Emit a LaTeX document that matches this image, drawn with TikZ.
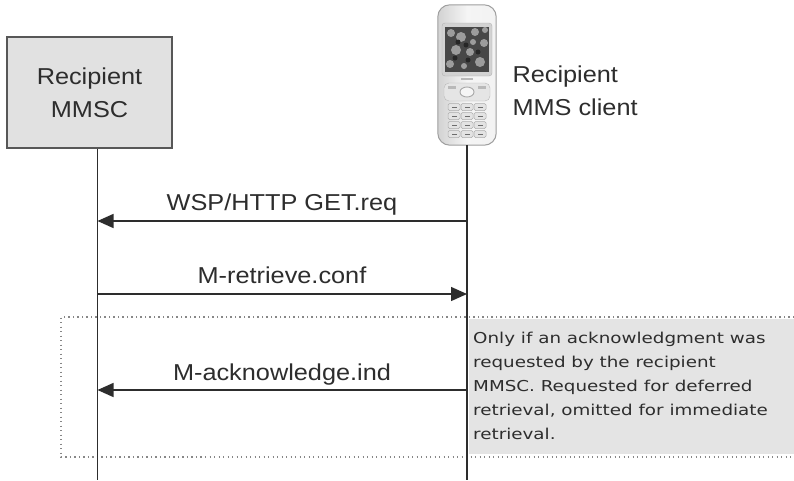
\documentclass[tikz,border=0pt]{standalone}
\usepackage{fontspec}
\setmainfont{Liberation Sans}[FakeStretch=1.1]
\newfontfamily\notefont{DejaVu Sans}[FakeStretch=1.22]
\usetikzlibrary{arrows.meta,positioning}
\definecolor{ink}{RGB}{45,45,45}
\definecolor{boxgray}{RGB}{225,225,225}
\definecolor{notegray}{RGB}{228,228,228}
\definecolor{dotgray}{RGB}{135,135,135}

\begin{document}
\begin{tikzpicture}[x=1pt, y=-1pt,
    every node/.style={text=ink, font=\fontsize{23}{33}\selectfont},
    life/.style={draw=ink, line width=1.8pt},
    msg/.style={draw=ink, line width=1.4pt, -{Triangle[length=16pt,width=14pt]}},
    phonekey/.style={draw=gray!65, fill=gray!22, rounded corners=1.5pt, line width=0.5pt}]
    \useasboundingbox[fill=white] (0,0) rectangle (794,480);

    % Optional acknowledgement region
    \fill[notegray] (469,319) rectangle (794,454);
    \draw[dotgray, line width=1.3pt, dash pattern=on 1.3pt off 3.2pt] (794,317) -- (61,317) -- (61,457) -- (794,457);

    % Recipient MMSC
    \node[draw=ink!80, fill=boxgray, line width=1.2pt, minimum width=165pt, minimum height=111pt, align=center] (mmsc) at (89.5,92.5) {Recipient\\MMSC};

    % Handset
    \node[minimum width=58pt, minimum height=140pt, inner sep=0pt] (phone) at (467,75) {};
    \draw[draw=gray!75, left color=gray!35, right color=gray!10, middle color=gray!8, line width=1pt, rounded corners=12pt] (phone.north west) rectangle (phone.south east);
    \draw[draw=gray!60, fill=gray!35, rounded corners=3pt] (442,23) rectangle (492,76);
    \fill[black!72] (445,27) rectangle (489,72);
    \foreach \x/\y/\r in {451/33/4, 461/37/5, 475/32/4, 484/43/4, 456/50/5, 470/52/4, 480/62/5, 450/64/4, 464/66/3, 473/42/3, 485/30/3}
        \fill[gray!60, opacity=0.8] (\x,\y) circle[radius=\r pt];
    \foreach \x/\y in {458/42, 468/60, 478/52, 455/58, 466/45}
        \fill[black!85] (\x,\y) circle[radius=2.5pt];
    \fill[gray!55] (461,78) rectangle (473,80);
    \draw[draw=gray!55, fill=gray!20, rounded corners=5pt] (444,83) rectangle (490,101);
    \draw[draw=gray!70, fill=gray!8, line width=0.9pt] (467,92) ellipse[x radius=7pt, y radius=5pt];
    \fill[gray!55] (448,86) rectangle (456,89);
    \fill[gray!55] (478,86) rectangle (486,89);
    \foreach \x in {454,467,480}
        \foreach \y in {107,116,125,134} {
            \draw[phonekey] (\x-6,\y-3.5) rectangle (\x+6,\y+3.5);
            \fill[ink!70] (\x-2.5,\y-0.4) rectangle (\x+2.5,\y+0.4);
        }
    \node[anchor=west, align=left] (client) at (509,91) {Recipient\\MMS client};

    % Lifelines
    \coordinate (mmscend) at (97.5,480);
    \coordinate (phoneend) at (467,480);
    \draw[life] (mmscend |- mmsc.south) -- (mmscend);
    \draw[life] (phoneend |- phone.south) -- (phoneend);

    % Messages
    \coordinate (c1) at (467,221);
    \coordinate (m1) at (97.5,221);
    \coordinate (m2) at (97.5,294);
    \coordinate (c2) at (467,294);
    \coordinate (c3) at (467,390);
    \coordinate (m3) at (97.5,390);

    \draw[msg] (c1) -- (m1);
    \node[anchor=base] (getreq) at (282,210) {WSP/HTTP GET.req};

    \draw[msg] (m2) -- (c2);
    \node[anchor=base] (retrconf) at (282,283) {M-retrieve.conf};

    \draw[msg] (c3) -- (m3);
    \node[anchor=base] (ackind) at (282,380) {M-acknowledge.ind};

    % Note text
    \node[anchor=north west, align=left, inner sep=0pt, font=\notefont\fontsize{15}{24}\selectfont] (note) at (473,332)
        {Only if an acknowledgment was\\requested by the recipient\\MMSC. Requested for deferred\\retrieval, omitted for immediate\\retrieval.};

\end{tikzpicture}
\end{document}
